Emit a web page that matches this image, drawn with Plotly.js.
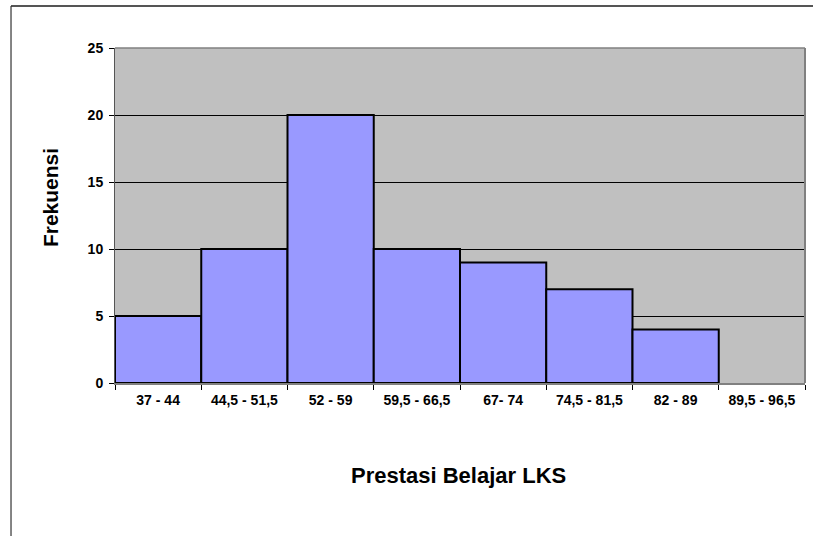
<!DOCTYPE html>
<html>
<head>
<meta charset="utf-8">
<script src="https://cdn.plot.ly/plotly-3.0.1.min.js"></script>
<style>html,body{margin:0;padding:0;background:#fff;}#chart{width:813px;height:536px;}</style>
</head>
<body>
<div id="chart"></div>
<script>
const categories = ["37 - 44", "44,5 - 51,5", "52 - 59", "59,5 - 66,5", "67- 74", "74,5 - 81,5", "82 - 89", "89,5 - 96,5"];
const frekuensi = [5, 10, 20, 10, 9, 7, 4, 0];
const yTicks = [0, 5, 10, 15, 20, 25];
const xTitle = "Prestasi Belajar LKS";
const yTitle = "Frekuensi";

const fam = "Liberation Sans, Arial, sans-serif";

const trace = {
  type: "bar",
  x: categories,
  y: frekuensi,
  marker: {color: "#9999FF", line: {color: "#000", width: frekuensi.map(v => v > 0 ? 2 : 0)}},
  hoverinfo: "none"
};

const layout = {
  width: 813, height: 536,
  margin: {l: 115, r: 8, t: 48, b: 153},
  paper_bgcolor: "#fff",
  plot_bgcolor: "#C0C0C0",
  bargap: 0,
  showlegend: false,
  font: {family: fam, color: "#000"},
  xaxis: {
    type: "category",
    tickson: "boundaries",
    ticks: "outside", ticklen: 5, tickcolor: "#000", tickwidth: 1,
    showgrid: false, zeroline: false,
    showline: true, linecolor: "#808080", linewidth: 2,
    tickfont: {family: fam, size: 14, color: "#000", weight: "bold"},
    ticklabelstandoff: 3,
    fixedrange: true
  },
  yaxis: {
    range: [0, 25],
    tickvals: yTicks,
    ticktext: yTicks.map(String),
    ticks: "outside", ticklen: 5, tickcolor: "#000", tickwidth: 1,
    showgrid: true, gridcolor: "#000", gridwidth: 1,
    zeroline: false,
    showline: true, linecolor: "#555", linewidth: 1,
    tickfont: {family: fam, size: 14, color: "#000", weight: "bold"},
    ticklabelstandoff: 3,
    fixedrange: true
  },
  annotations: [
    {text: xTitle, xref: "paper", yref: "paper", x: 0.4978, y: -0.2776, xanchor: "center", yanchor: "middle",
     showarrow: false, font: {family: fam, size: 22, color: "#000", weight: "bold"}},
    {text: yTitle, xref: "paper", yref: "paper", x: -0.0942, y: 0.552, xanchor: "center", yanchor: "middle",
     textangle: -90, showarrow: false, font: {family: fam, size: 21, color: "#000", weight: "bold"}}
  ],
  shapes: [
    {type: "line", xref: "paper", yref: "paper", x0: 0, x1: 1, y0: 1, y1: 1, line: {color: "#808080", width: 1.5}},
    {type: "line", xref: "paper", yref: "paper", x0: 1, x1: 1, y0: 0, y1: 1, line: {color: "#808080", width: 2}},
    {type: "line", xref: "paper", yref: "paper", x0: -0.1507, x1: 1.03, y0: 1.1254, y1: 1.1254, line: {color: "#555", width: 2}},
    {type: "line", xref: "paper", yref: "paper", x0: -0.1507, x1: -0.1507, y0: 1.1254, y1: -0.5, line: {color: "#333", width: 1.2}}
  ]
};

Plotly.newPlot("chart", [trace], layout, {staticPlot: true, displayModeBar: false});
</script>
</body>
</html>
